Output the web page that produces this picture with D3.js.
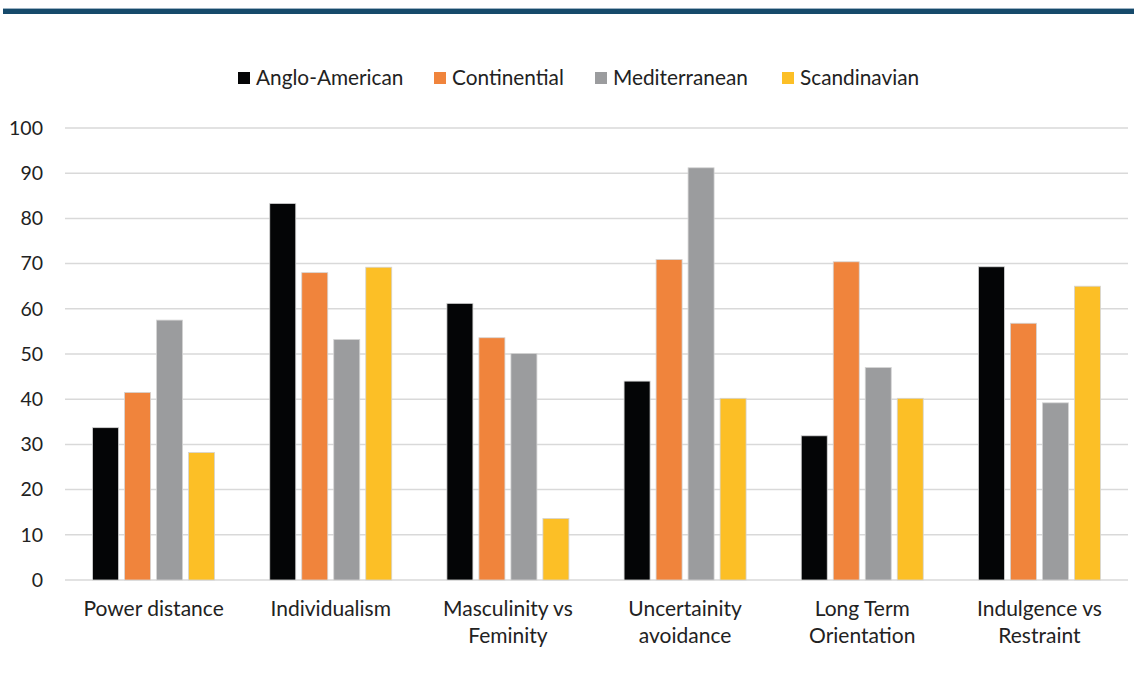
<!DOCTYPE html>
<html>
<head>
<meta charset="utf-8">
<script src="https://cdn.jsdelivr.net/npm/d3@7"></script>
<style>
  html, body { margin: 0; padding: 0; background: #ffffff; }
  svg { display: block; }
  text { font-family: Lato, "Open Sans", sans-serif; fill: #222222; }
</style>
</head>
<body>
<svg id="chart" width="1134" height="698"></svg>
<script>
// Cultural dimension scores by regional cluster
const categories = [
  ["Power distance"],
  ["Individualism"],
  ["Masculinity vs", "Feminity"],
  ["Uncertainity", "avoidance"],
  ["Long Term", "Orientation"],
  ["Indulgence vs", "Restraint"]
];
const seriesNames = ["Anglo-American", "Continential", "Mediterranean", "Scandinavian"];
const angloAmerican = [33.7, 83.3, 61.2, 44.0, 31.9, 69.3];
const continental   = [41.5, 68.0, 53.6, 70.9, 70.4, 56.8];
const mediterranean = [57.5, 53.2, 50.1, 91.2, 47.0, 39.2];
const scandinavian  = [28.2, 69.2, 13.6, 40.2, 40.2, 65.0];
const yTicks = [0, 10, 20, 30, 40, 50, 60, 70, 80, 90, 100];
const colors = ["#040506", "#f0843c", "#9b9c9e", "#fcbf26"];

const seriesValues = [angloAmerican, continental, mediterranean, scandinavian];
const catKeys = categories.map(c => c.join(" "));

const svg = d3.select("#chart");

// header band
svg.append("rect").attr("x", 3).attr("y", 8).attr("width", 1131).attr("height", 1).attr("fill", "#9db3c3");
svg.append("rect").attr("x", 3).attr("y", 9).attr("width", 1131).attr("height", 5).attr("fill", "#164a6b");

const plotLeft = 65, plotRight = 1128, plotTop = 128, plotBottom = 580;

const y = d3.scaleLinear().domain([0, 100]).range([plotBottom, plotTop]);
const x0 = d3.scaleBand().domain(catKeys).range([plotLeft, plotRight]).padding(0);
const groupW = 128;
const x1 = d3.scaleBand().domain(seriesNames).range([0, groupW])
  .paddingInner(0.1875).paddingOuter(0.09375);
const color = d3.scaleOrdinal().domain(seriesNames).range(colors);

// gridlines
svg.append("g")
  .selectAll("line")
  .data(yTicks)
  .join("line")
  .attr("x1", plotLeft).attr("x2", plotRight)
  .attr("y1", d => y(d)).attr("y2", d => y(d))
  .attr("stroke", "#d9d9d9").attr("stroke-width", 1.5);

// y axis labels
const yAxis = svg.append("g")
  .attr("transform", `translate(${plotLeft - 22},0)`)
  .call(d3.axisLeft(y).tickValues(yTicks).tickSize(0).tickPadding(0));
yAxis.select(".domain").remove();
yAxis.selectAll("text")
  .attr("font-family", "Lato, sans-serif")
  .attr("font-size", 19.5)
  .attr("fill", "#222222");

// bars
const groups = svg.append("g")
  .selectAll("g")
  .data(catKeys)
  .join("g")
  .attr("transform", d => `translate(${x0(d) + (x0.bandwidth() - groupW) / 2},0)`);

groups.selectAll("rect")
  .data((d, i) => seriesNames.map((s, j) => ({ s, v: seriesValues[j][i] })))
  .join("rect")
  .attr("x", d => x1(d.s))
  .attr("width", x1.bandwidth())
  .attr("y", d => y(d.v))
  .attr("height", d => y(0) - y(d.v))
  .attr("fill", d => color(d.s))
  .attr("stroke", "#d4d4d4")
  .attr("stroke-width", 0.8);

// category labels
const catG = svg.append("g");
categories.forEach((lines, i) => {
  const cx = x0(catKeys[i]) + x0.bandwidth() / 2;
  const t = catG.append("text")
    .attr("x", cx)
    .attr("y", 616)
    .attr("text-anchor", "middle")
    .attr("font-size", 21);
  lines.forEach((ln, k) => {
    t.append("tspan")
      .attr("x", cx)
      .attr("dy", k === 0 ? 0 : 27)
      .text(ln);
  });
});

// legend
const legendX = [238, 434, 595, 782];
const legend = svg.append("g");
seriesNames.forEach((s, i) => {
  legend.append("rect")
    .attr("x", legendX[i]).attr("y", 72)
    .attr("width", 12).attr("height", 12)
    .attr("fill", color(s));
  legend.append("text")
    .attr("x", legendX[i] + 18).attr("y", 85)
    .attr("font-size", 20.8)
    .text(s);
});
</script>
</body>
</html>
